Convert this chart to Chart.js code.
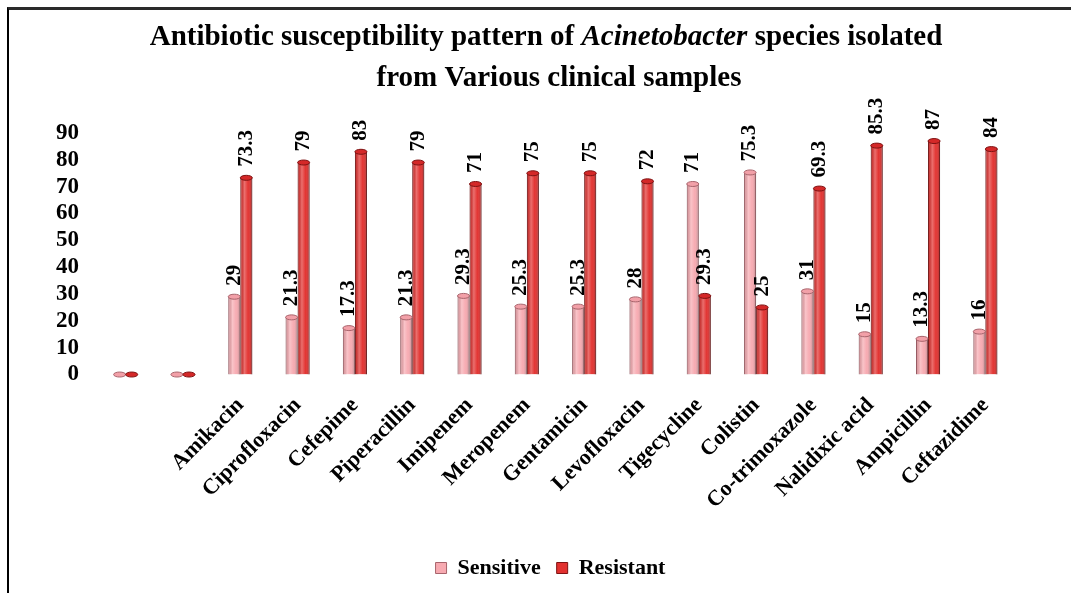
<!DOCTYPE html>
<html>
<head>
<meta charset="utf-8">
<script src="https://cdn.jsdelivr.net/npm/chart.js@4"></script>
<style>
    body { margin: 0; background: #fff; }
    #wrap { position: relative; width: 1071px; height: 593px; overflow: hidden; }
    #frame { position: absolute; left: 7px; top: 7px; width: 1100px; height: 620px;
             border-top: 3px solid #2a2a2a; border-left: 2px solid #000; pointer-events: none; }
</style>
</head>
<body>
<div id="wrap">
    <canvas id="bar-chart" width="1071" height="593"></canvas>
    <div id="frame"></div>
</div>
<script>
const categories = ['', '', 'Amikacin', 'Ciprofloxacin', 'Cefepime', 'Piperacillin', 'Imipenem',
    'Meropenem', 'Gentamicin', 'Levofloxacin', 'Tigecycline', 'Colistin', 'Co-trimoxazole',
    'Nalidixic acid', 'Ampicillin', 'Ceftazidime'];
const sensitive = [0, 0, 29, 21.3, 17.3, 21.3, 29.3, 25.3, 25.3, 28, 71, 75.3, 31, 15, 13.3, 16];
const resistant = [0, 0, 73.3, 79, 83, 79, 71, 75, 75, 72, 29.3, 25, 69.3, 85.3, 87, 84];
const yTicks = [0, 10, 20, 30, 40, 50, 60, 70, 80, 90];

const serif = '"Liberation Serif", "Times New Roman", serif';

// two-line title, with the genus name in italics
const titlePlugin = {
    id: 'titleLines',
    afterDraw(chart) {
        const ctx = chart.ctx;
        const lines = [
            { cx: 546, y: 38, parts: [
                ['bold', 'Antibiotic susceptibility pattern of '],
                ['italic bold', 'Acinetobacter'],
                ['bold', ' species isolated']] },
            { cx: 559, y: 79, parts: [['bold', 'from Various clinical samples']] }
        ];
        ctx.save();
        ctx.fillStyle = '#000';
        ctx.textBaseline = 'middle';
        ctx.textAlign = 'left';
        lines.forEach(line => {
            let total = 0;
            line.parts.forEach(p => {
                ctx.font = p[0] + ' 29px ' + serif;
                total += ctx.measureText(p[1]).width;
            });
            let x = line.cx - total / 2;
            line.parts.forEach(p => {
                ctx.font = p[0] + ' 29px ' + serif;
                ctx.fillText(p[1], x, line.y);
                x += ctx.measureText(p[1]).width;
            });
        });
        ctx.restore();
    }
};

// cylinder shading on top of the flat bars
const shadePlugin = {
    id: 'shade',
    afterDatasetsDraw(chart) {
        const ctx = chart.ctx;
        chart.data.datasets.forEach((ds, d) => {
            const meta = chart.getDatasetMeta(d);
            meta.data.forEach(el => {
                const w = el.width;
                const left = el.x - w / 2;
                const top = Math.min(el.y, el.base);
                const h = Math.abs(el.base - el.y);
                ctx.save();
                if (h > 0) {
                    const g = ctx.createLinearGradient(left, 0, left + w, 0);
                    g.addColorStop(0, 'rgba(0,0,0,0.10)');
                    g.addColorStop(0.35, 'rgba(255,255,255,0.30)');
                    g.addColorStop(0.65, 'rgba(255,255,255,0.02)');
                    g.addColorStop(1, 'rgba(0,0,0,0.28)');
                    ctx.fillStyle = g;
                    ctx.fillRect(left, top, w, h);
                }
                ctx.beginPath();
                ctx.ellipse(el.x, top, w / 2, 2.5, 0, 0, Math.PI * 2);
                ctx.fillStyle = ds.capColor;
                ctx.fill();
                ctx.lineWidth = 1;
                ctx.strokeStyle = ds.borderColor;
                ctx.stroke();
                ctx.restore();
            });
        });
    }
};

// vertical value labels above each bar
const valuePlugin = {
    id: 'values',
    afterDatasetsDraw(chart) {
        const ctx = chart.ctx;
        chart.data.datasets.forEach((ds, d) => {
            const meta = chart.getDatasetMeta(d);
            meta.data.forEach((el, i) => {
                if (categories[i] === '') return;
                ctx.save();
                ctx.translate(el.x, el.y - 11);
                ctx.rotate(-Math.PI / 2);
                ctx.font = 'bold 21px ' + serif;
                ctx.fillStyle = '#000';
                ctx.textAlign = 'left';
                ctx.textBaseline = 'middle';
                ctx.fillText(String(ds.data[i]), 0, 0);
                ctx.restore();
            });
        });
    }
};

document.addEventListener('DOMContentLoaded', function () {
    const ctx = document.getElementById('bar-chart').getContext('2d');

    new Chart(ctx, {
        type: 'bar',
        data: {
            labels: categories,
            datasets: [{
                label: 'Sensitive',
                data: sensitive,
                backgroundColor: '#f7aab1',
                borderColor: '#a8646c',
                capColor: '#f2a0a8',
                borderWidth: 1
            }, {
                label: 'Resistant',
                data: resistant,
                backgroundColor: '#e2312f',
                borderColor: '#7e1212',
                capColor: '#d42828',
                borderWidth: 1
            }]
        },
        options: {
            responsive: false,
            animation: false,
            layout: { padding: { top: 133, left: 50, right: 20, bottom: 4 } },
            datasets: { bar: { categoryPercentage: 0.42, barPercentage: 1 } },
            scales: {
                x: {
                    grid: { display: false },
                    border: { display: false },
                    afterFit: axis => { axis.height += 17; },
                    ticks: {
                        autoSkip: false,
                        maxRotation: 45,
                        minRotation: 45,
                        padding: 10,
                        color: '#000',
                        font: { family: serif, size: 22, weight: 'bold' }
                    }
                },
                y: {
                    min: 0,
                    max: 90,
                    grid: { display: false, drawTicks: false },
                    border: { display: false },
                    afterBuildTicks: axis => { axis.ticks = yTicks.map(v => ({ value: v })); },
                    afterFit: axis => { axis.width = 47; },
                    ticks: {
                        autoSkip: false,
                        padding: 18,
                        color: '#000',
                        font: { family: serif, size: 23, weight: 'bold' }
                    }
                },
                // empty right-hand spacer so the plot ends where the reference does
                spacer: {
                    type: 'linear',
                    position: 'right',
                    grid: { display: false },
                    border: { display: false },
                    ticks: { display: false },
                    afterFit: axis => { axis.width = 37; }
                }
            },
            plugins: {
                legend: {
                    position: 'bottom',
                    labels: {
                        boxWidth: 11,
                        boxHeight: 11,
                        padding: 16,
                        color: '#000',
                        font: { family: serif, size: 22, weight: 'bold' }
                    }
                },
                tooltip: { enabled: false }
            }
        },
        plugins: [titlePlugin, shadePlugin, valuePlugin]
    });
});
</script>
</body>
</html>
